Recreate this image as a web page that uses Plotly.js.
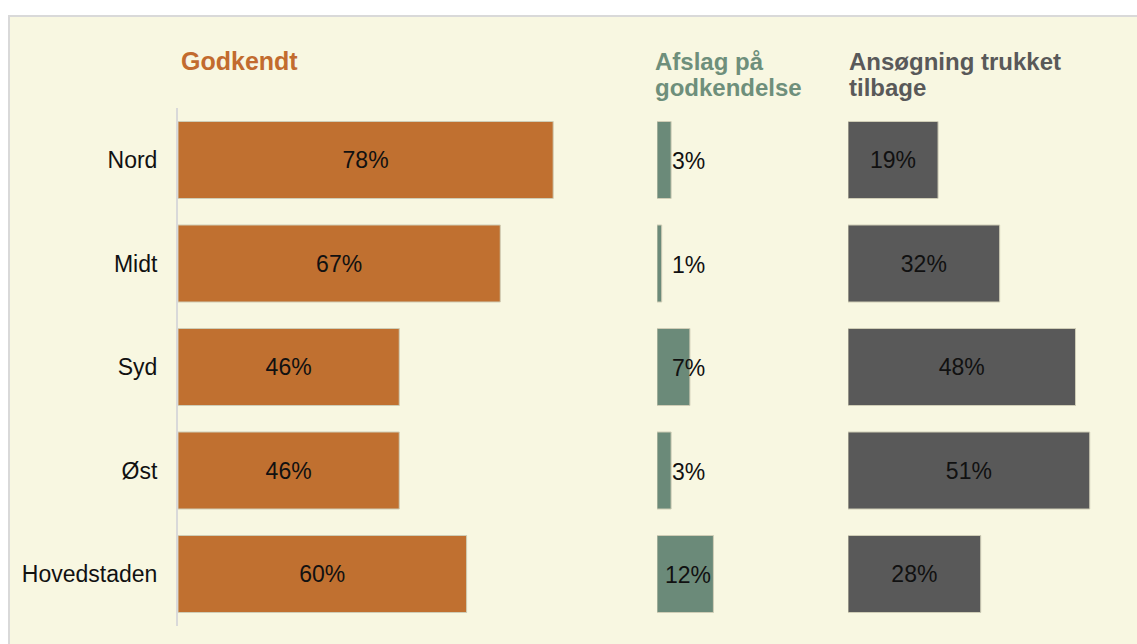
<!DOCTYPE html>
<html>
<head>
<meta charset="utf-8">
<script src="https://cdn.plot.ly/plotly-3.0.1.min.js"></script>
<style>html,body{margin:0;padding:0;background:#fff;}#chart{width:1137px;height:644px;}</style>
</head>
<body>
<div id="chart"></div>
<script>
// ---- data ----
const regions = ["Nord", "Midt", "Syd", "Øst", "Hovedstaden"];
const godkendt = [78, 67, 46, 46, 60];
const afslag = [3, 1, 7, 3, 12];
const trukket = [19, 32, 48, 51, 28];
const seriesTitles = {
  godkendt: ["Godkendt"],
  afslag: ["Afslag på", "godkendelse"],
  trukket: ["Ansøgning trukket", "tilbage"]
};

// ---- layout helpers ----
const W = 1137, H = 644;
function dom(startPx, maxVal, pxPerPct) { return [startPx / W, (startPx + maxVal * pxPerPct) / W]; }
const yTop = 108.25, yBot = 625.75;
const fontFam = "Liberation Sans, Arial, sans-serif";
const colors = { godkendt: "#C07030", afslag: "#6B8A79", trukket: "#595959" };
const titleColors = { godkendt: "#C26B2E", afslag: "#6E8F7B", trukket: "#595959" };
const pct = a => a.map(v => v + "%");

const barCommon = {
  type: "bar", orientation: "h", y: regions, yaxis: "y",
  textfont: { family: fontFam, size: 23, color: "#111" },
  insidetextanchor: "middle", constraintext: "none",
  hoverinfo: "skip", showlegend: false
};
const barLine = { width: 1, color: "#cfcdb6" };

const traces = [
  Object.assign({}, barCommon, { x: godkendt, xaxis: "x", text: pct(godkendt), textposition: "inside",
    marker: { color: colors.godkendt, line: barLine } }),
  Object.assign({}, barCommon, { x: afslag, xaxis: "x2", textposition: "none",
    marker: { color: colors.afslag, line: barLine } }),
  Object.assign({}, barCommon, { x: trukket, xaxis: "x3", text: pct(trukket), textposition: "inside",
    marker: { color: colors.trukket, line: barLine } })
];

const hiddenX = { showgrid: false, zeroline: false, showline: false, showticklabels: false, ticks: "", fixedrange: true };

function titleAnn(text, leftPx, baselinePx, color, size) {
  return { text: "<b>" + text + "</b>", xref: "paper", yref: "paper", x: leftPx / W, y: 1 - (baselinePx - 8.4) / H,
    xanchor: "left", yanchor: "middle", showarrow: false, font: { family: fontFam, size: size, color: color } };
}

const annotations = [
  titleAnn(seriesTitles.godkendt[0], 179, 69.5, titleColors.godkendt, 25),
  titleAnn(seriesTitles.afslag[0], 653, 69.5, titleColors.afslag, 24),
  titleAnn(seriesTitles.afslag[1], 653, 95.5, titleColors.afslag, 24),
  titleAnn(seriesTitles.trukket[0], 847, 69.5, titleColors.trukket, 24),
  titleAnn(seriesTitles.trukket[1], 847, 95.5, titleColors.trukket, 24)
].concat(afslag.map((v, i) => ({
  text: v + "%", xref: "x2", yref: "y", x: Math.max(v / 2, 6.6), y: regions[i],
  xanchor: "center", yanchor: "middle", yshift: -1, showarrow: false,
  font: { family: fontFam, size: 23, color: "#111" }
})));

const layout = {
  width: W, height: H,
  margin: { l: 0, r: 0, t: 0, b: 0, pad: 0 },
  paper_bgcolor: "#ffffff", plot_bgcolor: "rgba(0,0,0,0)",
  bargap: 0.256, showlegend: false,
  xaxis: Object.assign({ domain: dom(178, 80, 4.81), range: [0, 80], anchor: "y" }, hiddenX),
  xaxis2: Object.assign({ domain: dom(657, 15, 4.7), range: [0, 15], anchor: "y" }, hiddenX),
  xaxis3: Object.assign({ domain: dom(848, 60, 4.74), range: [0, 60], anchor: "y" }, hiddenX),
  yaxis: { type: "category", domain: [1 - yBot / H, 1 - yTop / H], range: [4.5, -0.5], anchor: "x",
    showgrid: false, zeroline: false, showline: true, linecolor: "#d9d9d9", linewidth: 2,
    ticks: "outside", ticklen: 14, tickcolor: "rgba(0,0,0,0)",
    tickfont: { family: fontFam, size: 23, color: "#111" }, fixedrange: true },
  shapes: [{ type: "rect", xref: "paper", yref: "paper", layer: "below",
    x0: 9 / W, x1: 1.05, y0: -0.05, y1: 1 - 16 / H,
    fillcolor: "#F8F7E1", line: { color: "#d9d9d9", width: 2 } }],
  annotations: annotations
};

Plotly.newPlot("chart", traces, layout, { displayModeBar: false, staticPlot: true });
</script>
</body>
</html>
